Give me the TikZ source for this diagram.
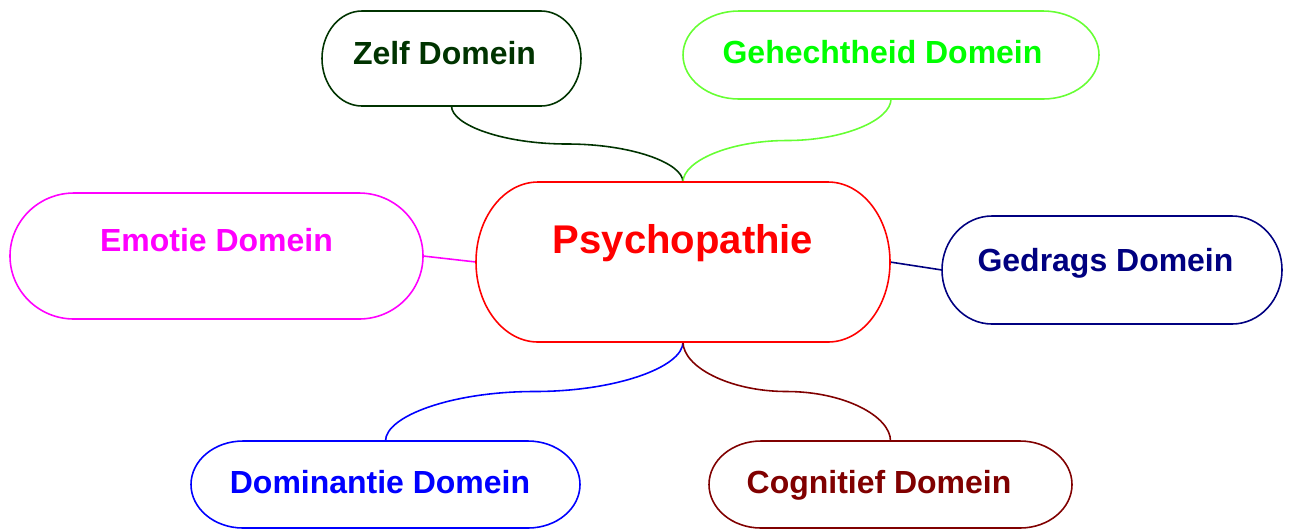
\documentclass[tikz,border=0pt]{standalone}
\usepackage{fontspec}
\setmainfont{Liberation Sans}
\usetikzlibrary{calc}
\definecolor{zelfc}{RGB}{0,51,0}
\definecolor{gehtext}{RGB}{0,255,0}
\definecolor{gehline}{RGB}{102,255,51}
\definecolor{emoc}{RGB}{255,0,255}
\definecolor{psyc}{RGB}{255,0,0}
\definecolor{gedc}{RGB}{0,0,128}
\definecolor{domc}{RGB}{0,0,255}
\definecolor{cogc}{RGB}{128,0,0}
\tikzset{
  pill/.style 2 args={draw=none, shape=rectangle, inner sep=0pt, outer sep=0pt,
    minimum width=#1*0.02cm, minimum height=#2*0.02cm},
  outline/.style={line width=0.9pt},
  link/.style={line width=0.9pt},
  dtext/.style={anchor=base, inner sep=0pt, font=\bfseries\fontsize{18.2pt}{22pt}\selectfont},
  ptext/.style={anchor=base, inner sep=0pt, font=\bfseries\fontsize{22.8pt}{27pt}\selectfont},
}
\newcommand\pillpath[4]{%
  \draw[outline,#4] ([xshift=#2*0.02cm]#1.north west) -- ([xshift=-#2*0.02cm]#1.north east)
    arc[start angle=90,end angle=-90,x radius=#2*0.02cm,y radius=#3*0.02cm]
    -- ([xshift=#2*0.02cm]#1.south west)
    arc[start angle=270,end angle=90,x radius=#2*0.02cm,y radius=#3*0.02cm] -- cycle;}
\begin{document}
\begin{tikzpicture}[x=0.02cm,y=0.02cm]
\useasboundingbox (0,0) rectangle (1290,-529);
% shape nodes
\node[pill={259}{95}]  (zelf) at (451.5,-58.5) {};
\node[pill={416}{88}]  (geh)  at (891,-55) {};
\node[pill={414}{160}] (psy)  at (683,-262) {};
\node[pill={413}{126}] (emo)  at (216.5,-256) {};
\node[pill={340}{108}] (ged)  at (1112,-270) {};
\node[pill={389}{87}]  (dom)  at (385.5,-484.5) {};
\node[pill={363}{87}]  (cog)  at (890.5,-484.5) {};
% connectors
\draw[link,zelfc] (zelf.south) .. controls +(0,-19) and +(-64,0) .. ($(zelf.south)!0.5!(psy.north)$)
  .. controls +(64,0) and +(0,19) .. (psy.north);
\draw[link,gehline] (geh.south) .. controls +(0,-21) and +(57,0) .. ($(geh.south)!0.5!(psy.north)$)
  .. controls +(-57,0) and +(0,21) .. (psy.north);
\draw[link,domc] (psy.south) .. controls +(0,-25) and +(82,0) .. ($(psy.south)!0.5!(dom.north)$)
  .. controls +(-82,0) and +(0,25) .. (dom.north);
\draw[link,cogc] (psy.south) .. controls +(0,-25) and +(-57,0) .. ($(psy.south)!0.5!(cog.north)$)
  .. controls +(57,0) and +(0,25) .. (cog.north);
\draw[link,emoc] (emo.east) -- (psy.west);
\draw[link,gedc] (psy.east) -- (ged.west);
% outlines
\pillpath{zelf}{40}{47.5}{zelfc}
\pillpath{geh}{56}{44}{gehline}
\pillpath{psy}{62}{80}{psyc}
\pillpath{emo}{64}{63}{emoc}
\pillpath{ged}{50}{54}{gedc}
\pillpath{dom}{52}{43.5}{domc}
\pillpath{cog}{52}{43.5}{cogc}
% texts
\node[dtext,text=zelfc]   (zelfT) at (444.5,-64) {Zelf Domein};
\node[dtext,text=gehtext] (gehT)  at (882.5,-63) {Gehechtheid Domein};
\node[ptext,text=psyc]    (psyT)  at (683,-253) {Psychopathie};
\node[dtext,text=emoc]    (emoT)  at (216.5,-251) {Emotie Domein};
\node[dtext,text=gedc]    (gedT)  at (1105.5,-271) {Gedrags Domein};
\node[dtext,text=domc]    (domT)  at (380,-493) {Dominantie Domein};
\node[dtext,text=cogc]    (cogT)  at (879,-493) {Cognitief Domein};
\end{tikzpicture}
\end{document}
